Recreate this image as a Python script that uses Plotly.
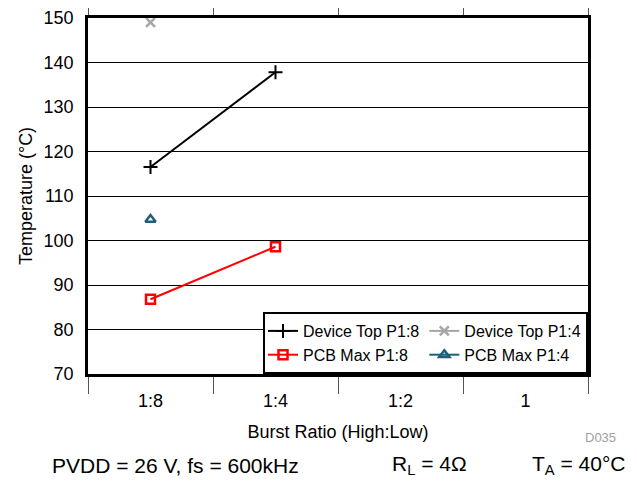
import plotly.graph_objects as go

# categories on the x axis
categories = ["1:8", "1:4", "1:2", "1"]
cat_pos = [0.5, 1.5, 2.5, 3.5]

# series values (temperature in °C)
dev_top_p18 = [116.5, 137.8]
dev_top_p14 = [149.0]
pcb_max_p18 = [86.8, 98.6]
pcb_max_p14 = [104.7]

y_ticks = [70, 80, 90, 100, 110, 120, 130, 140, 150]

fig = go.Figure()

fig.add_trace(go.Scatter(
    x=cat_pos[:len(dev_top_p18)], y=dev_top_p18, name="Device Top P1:8",
    mode="lines+markers", legendgroup="p18",
    line=dict(color="black", width=2),
    marker=dict(symbol="cross-thin", size=10, line=dict(color="black", width=2)),
))
fig.add_trace(go.Scatter(
    x=cat_pos[:len(dev_top_p14)], y=dev_top_p14, name="Device Top P1:4",
    mode="lines+markers", legendgroup="p14",
    line=dict(color="#a6a6a6", width=2),
    marker=dict(symbol="x-thin", size=9, line=dict(color="#a6a6a6", width=2.5)),
))
fig.add_trace(go.Scatter(
    x=cat_pos[:len(pcb_max_p18)], y=pcb_max_p18, name="PCB Max P1:8",
    mode="lines+markers", legendgroup="p18",
    line=dict(color="#ff0000", width=2),
    marker=dict(symbol="square-open", size=9, color="#ff0000", line=dict(width=2.5)),
))
fig.add_trace(go.Scatter(
    x=cat_pos[:len(pcb_max_p14)], y=pcb_max_p14, name="PCB Max P1:4",
    mode="lines+markers", legendgroup="p14",
    line=dict(color="#1f5f7a", width=2),
    marker=dict(symbol="triangle-up-open", size=9, color="#1f5f7a", line=dict(width=2.5)),
))

# invisible trace to carry the category label axis
fig.add_trace(go.Scatter(x=cat_pos, y=[None] * 4, xaxis="x2", showlegend=False,
                         hoverinfo="skip"))

font = "Liberation Sans, Arial, sans-serif"

# the page body adds an 8px margin, so the figure is 8px smaller and shifted
fig.update_layout(
    width=629, height=475,
    margin=dict(l=80, r=49, t=10, b=109),
    paper_bgcolor="white", plot_bgcolor="white",
    font=dict(family=font, size=16, color="black"),
    xaxis=dict(
        range=[0, 4], tickvals=[0, 1, 2, 3, 4], showticklabels=False,
        ticks="outside", ticklen=17, tickwidth=1, tickcolor="#555555",
        mirror="ticks", showline=True, linecolor="black", linewidth=2.5,
        showgrid=False, zeroline=False, automargin=False,
    ),
    xaxis2=dict(
        overlaying="x", anchor="y", side="bottom", range=[0, 4],
        tickvals=cat_pos, ticktext=categories,
        ticks="outside", ticklen=10, tickcolor="rgba(0,0,0,0)",
        showline=False, showgrid=False, zeroline=False, automargin=False,
        tickfont=dict(size=18),
        title=dict(text="Burst Ratio (High:Low)", font=dict(size=18), standoff=15),
    ),
    yaxis=dict(
        range=[70, 150], tickvals=y_ticks,
        showline=True, linecolor="black", linewidth=2.5, mirror=True,
        showgrid=True, gridcolor="black", gridwidth=1, zeroline=False,
        ticks="", ticklabelstandoff=8, tickfont=dict(size=18), automargin=False,
        title=dict(text="Temperature (°C)", font=dict(size=18), standoff=7),
    ),
    legend=dict(
        orientation="h", x=1, xanchor="right", y=0, yanchor="bottom",
        traceorder="grouped", tracegroupgap=12,
        bgcolor="white", bordercolor="black", borderwidth=2,
        font=dict(size=16), itemwidth=30,
    ),
    showlegend=True,
    annotations=[
        dict(text="PVDD = 26 V, fs = 600kHz", xref="paper", yref="paper",
             x=-0.076, y=-0.256, xanchor="left", yanchor="middle",
             showarrow=False, font=dict(size=21)),
        dict(text="R<sub>L</sub> = 4Ω", xref="paper", yref="paper",
             x=0.604, y=-0.256, xanchor="left", yanchor="middle",
             showarrow=False, font=dict(size=21)),
        dict(text="T<sub>A</sub> = 40°C", xref="paper", yref="paper",
             x=0.884, y=-0.256, xanchor="left", yanchor="middle",
             showarrow=False, font=dict(size=21)),
        dict(text="D035", xref="paper", yref="paper",
             x=1.024, y=-0.177, xanchor="center", yanchor="middle",
             showarrow=False, font=dict(size=13, color="#a0a0a0")),
    ],
)

fig.write_html("out.html")
